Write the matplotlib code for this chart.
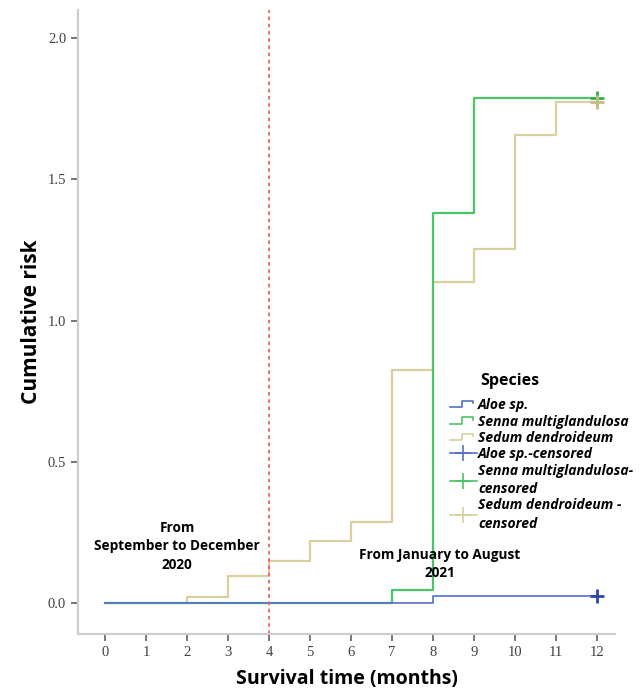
import matplotlib
matplotlib.use("Agg")
import matplotlib.pyplot as plt
from matplotlib.lines import Line2D
from matplotlib.legend_handler import HandlerBase

months = [0, 1, 2, 3, 4, 5, 6, 7, 8, 9, 10, 11, 12]

aloe_t = [0, 8, 12]
aloe_h = [0.0, 0.025, 0.025]

senna_t = [0, 7, 8, 9, 12]
senna_h = [0.0, 0.046, 1.38, 1.79, 1.79]

sedum_t = [0, 2, 3, 4, 5, 6, 7, 8, 9, 10, 11, 12]
sedum_h = [0.0, 0.02, 0.095, 0.15, 0.22, 0.285, 0.826, 1.135, 1.255, 1.656, 1.773, 1.773]

species = ["Aloe sp.", "Senna multiglandulosa", "Sedum dendroideum"]
censor_labels = ["Aloe sp.-censored", "Senna multiglandulosa-\ncensored",
                 "Sedum dendroideum -\ncensored"]

blue = "#5670c8"
green = "#4cc46a"
tan = "#d9cfa0"
censor_cols = ["#2a46b0", "#2fb04f", "#c9bb80"]


class StepHandler(HandlerBase):
    def create_artists(self, legend, orig_handle, xdescent, ydescent,
                       width, height, fontsize, trans):
        w, h = width, height
        xs = [0, 0.45 * w, 0.45 * w, 0.85 * w, 0.85 * w]
        ys = [0.2 * h, 0.2 * h, 0.85 * h, 0.85 * h, 0.6 * h]
        ln = Line2D(xs, ys, color=orig_handle.get_color(), lw=1.2, transform=trans)
        return [ln]


fig = plt.figure(figsize=(6.42, 6.95), dpi=100)
ax = fig.add_axes([0.1215, 0.0878, 0.8365, 0.8978])

ax.step(sedum_t, sedum_h, where="post", color=tan, lw=1.6)
ax.step(senna_t, senna_h, where="post", color=green, lw=1.6)
ax.step(aloe_t, aloe_h, where="post", color=blue, lw=1.2)

ax.plot(aloe_t[-1], aloe_h[-1], marker="+", ms=10, mew=2, color=censor_cols[0])
ax.plot(senna_t[-1], senna_h[-1], marker="+", ms=10, mew=2, color=censor_cols[1])
ax.plot(sedum_t[-1], sedum_h[-1], marker="+", ms=10, mew=2, color=censor_cols[2])

ax.axvline(4, color="#f06060", ls=(0, (2, 2)), lw=1.3)

ax.text(1.76, 0.2, "From\nSeptember to December\n2020", ha="center", va="center",
        fontsize=9.8, fontweight="bold", family="Open Sans", linespacing=1.4)
ax.text(8.17, 0.138, "From January to August\n2021", ha="center", va="center",
        fontsize=9.8, fontweight="bold", family="Open Sans", linespacing=1.4)

ax.set_xlim(-0.66, 12.44)
ax.set_ylim(-0.11, 2.10)
ax.set_xticks(months)
ax.set_yticks([0.0, 0.5, 1.0, 1.5, 2.0])
ax.set_yticklabels(["0.0", "0.5", "1.0", "1.5", "2.0"])
for lab in ax.get_xticklabels() + ax.get_yticklabels():
    lab.set_family("Liberation Serif")
    lab.set_fontsize(10.5)
    lab.set_color("#404040")
ax.tick_params(axis="both", colors="#606060", labelcolor="#404040", width=1.2, length=5)

for s in ["top", "right"]:
    ax.spines[s].set_visible(False)
for s in ["left", "bottom"]:
    ax.spines[s].set_color("#cccccc")
    ax.spines[s].set_linewidth(1.5)

ax.set_xlabel("Survival time (months)", fontsize=14, fontweight="bold",
              family="Open Sans", labelpad=7)
ax.set_ylabel("Cumulative risk", fontsize=15, fontweight="bold",
              family="Open Sans", labelpad=4)

handles = [Line2D([], [], color=c) for c in [blue, green, tan]]
handles += [Line2D([], [], color=c, marker="+", ms=12, mew=1.2, lw=1.2)
            for c in [blue, green, tan]]
hmap = {h: StepHandler() for h in handles[:3]}
leg = ax.legend(handles, species + censor_labels, handler_map=hmap,
                loc="upper left", bbox_to_anchor=(0.693, 0.419), frameon=False,
                title="Species", handlelength=1.9, handletextpad=0.1,
                labelspacing=0.17, borderaxespad=0, borderpad=0,
                prop={"family": "Open Sans", "style": "italic",
                      "weight": "bold", "size": 10})
for t in leg.get_texts():
    t.set_linespacing(1.4)
leg.get_title().set_fontweight("bold")
leg.get_title().set_family("Open Sans")
leg.get_title().set_fontsize(11.5)
leg._legend_box.align = "left"
leg._legend_box.sep = 7
leg.get_title().set_position((30, 0))

fig.savefig("out.png", dpi=100)
